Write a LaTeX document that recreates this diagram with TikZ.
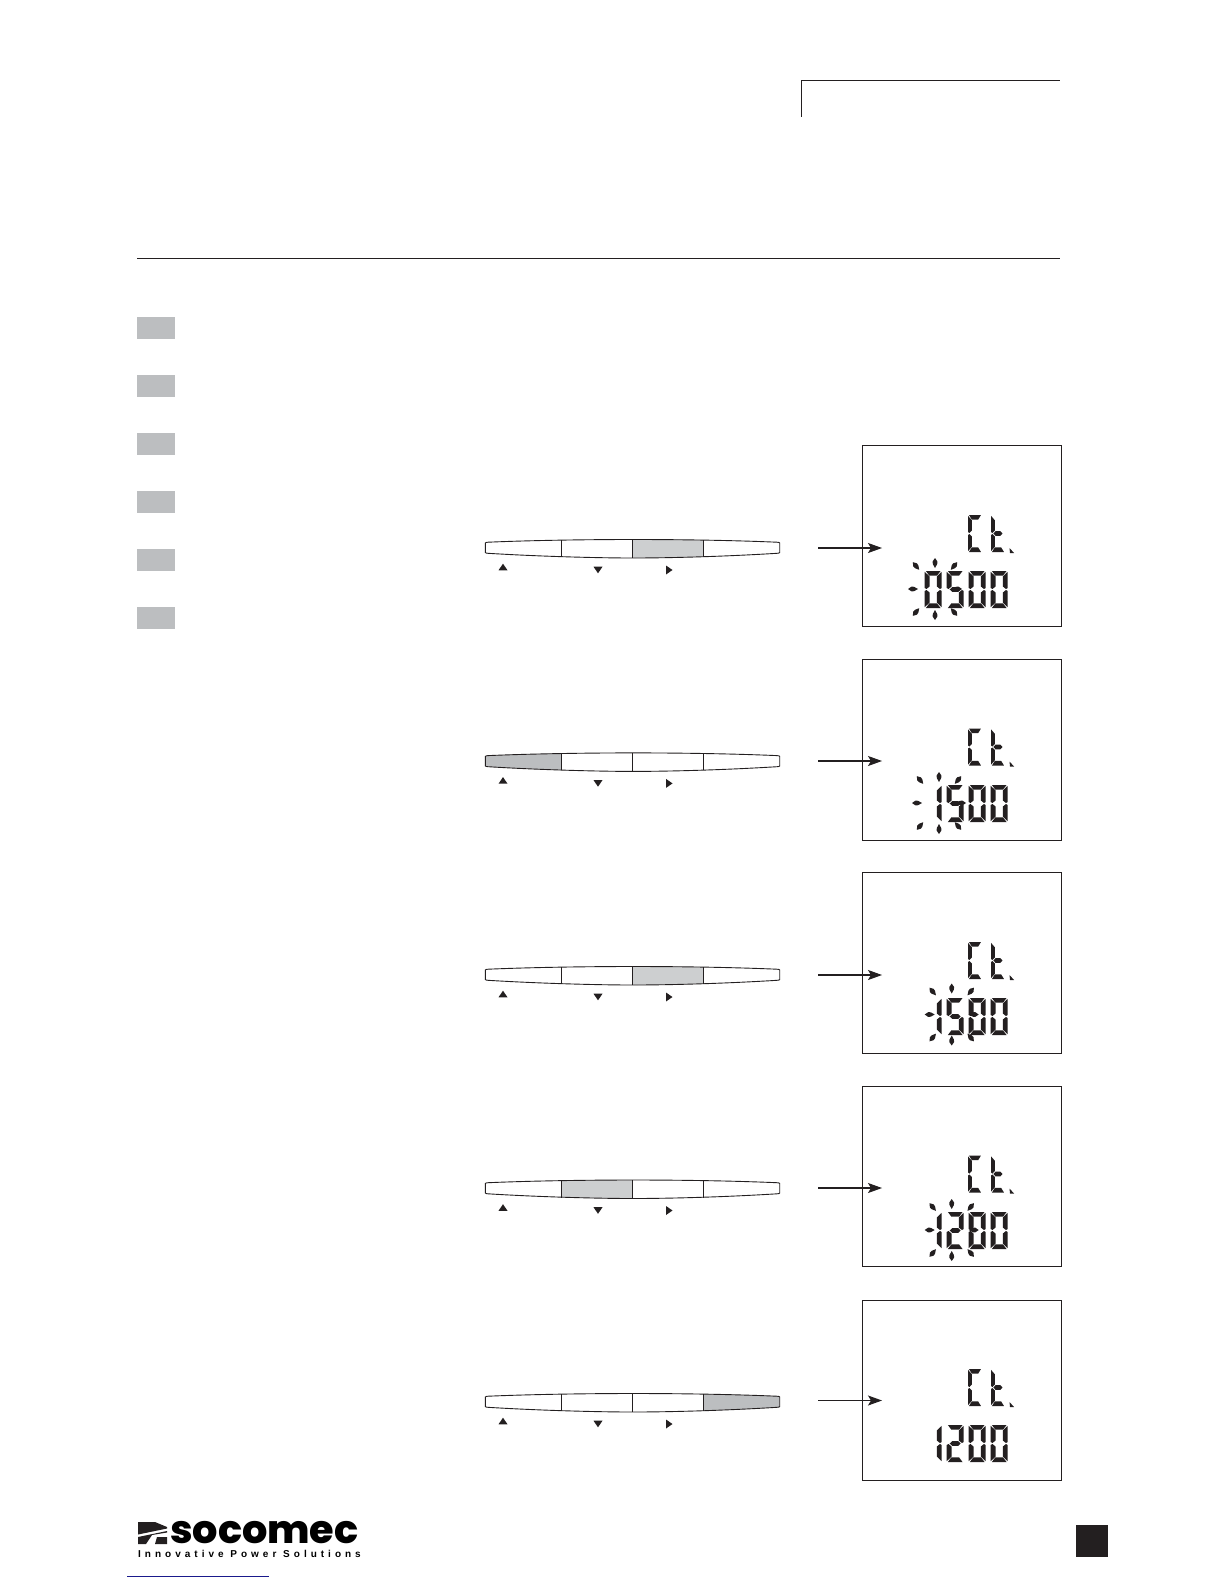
\documentclass[tikz,border=0pt]{standalone}
\usepackage{fontspec}
\newfontfamily\logofont{Poppins}[BoldFont={Poppins ExtraBold}]
\newfontfamily\tagfont[LetterSpace=40]{Liberation Sans}
\usetikzlibrary{arrows.meta}
\definecolor{ink}{HTML}{231F20}
\definecolor{tabgrey}{HTML}{BCBEC0}
\definecolor{keygrey}{HTML}{CDCFD0}
\definecolor{linkblue}{HTML}{1A1A8C}
\tikzset{
  rulerline/.style={draw=ink,line width=0.9pt},
  tabbox/.style={fill=tabgrey,draw=none},
  keyline/.style={draw=ink,line width=0.9pt},
  lcdpanel/.style={draw=ink,line width=0.8pt,fill=white,inner sep=0,anchor=north west,minimum width=199pt},
  lcdseg/.style={fill=ink,draw=none},
  flowarrow/.style={draw=ink,line width=1.1pt,-{Stealth[length=14pt,width=10pt,inset=3pt]}}
}
% seven segment shapes for a digit 17 wide, 37 high
\newcommand\sga{\fill[lcdseg] (1.2,0)--(15.8,0)--(12.4,4.6)--(4.6,4.6)--cycle;}
\newcommand\sgd{\fill[lcdseg] (1.2,37)--(15.8,37)--(12.4,32.4)--(4.6,32.4)--cycle;}
\newcommand\sgg{\fill[lcdseg] (3,18.5)--(5.5,16.2)--(11.5,16.2)--(14,18.5)--(11.5,20.8)--(5.5,20.8)--cycle;}
\newcommand\sgf{\fill[lcdseg] (0,0.8)--(4.8,5.4)--(4.8,15.5)--(1.8,18)--(0,17)--cycle;}
\newcommand\sge{\fill[lcdseg] (0,36.2)--(4.8,31.6)--(4.8,21.5)--(1.8,19)--(0,20)--cycle;}
\newcommand\sgb{\fill[lcdseg] (17,0.8)--(12.2,5.4)--(12.2,15.5)--(15.2,18)--(17,17)--cycle;}
\newcommand\sgc{\fill[lcdseg] (17,36.2)--(12.2,31.6)--(12.2,21.5)--(15.2,19)--(17,20)--cycle;}
\newcommand\lcdchar[3]{\begin{scope}[shift={(#1,#2)}]\foreach \s in {#3}{\csname sg\s\endcsname}\end{scope}}
\newcommand\lcdnarrow[3]{\begin{scope}[shift={(#1,#2)},xscale=0.82]\foreach \s in {#3}{\csname sg\s\endcsname}\end{scope}}
\newcommand\lcdzero[2]{\lcdchar{#1}{#2}{a,b,c,d,e,f}}
\newcommand\lcdfive[2]{\lcdchar{#1}{#2}{a,f,g,c,d}}
\newcommand\lcdone[2]{\lcdchar{#1}{#2}{b,c}}
\newcommand\lcdtwo[2]{\lcdchar{#1}{#2}{a,b,g,e,d}}
% blink rays: spindle centred on a point
\newcommand\lcdray[3]{\fill[lcdseg,shift={(#1,#2)},rotate=#3] (-5,0) -- (-1.5,-2.4) -- (1,-2.2) -- (5,0) -- (1,2.2) -- (-1.5,2.4) -- cycle;}
\newcommand\blink[2]{\foreach \dx/\dy/\ang in {22/0/180,-22/0/0,0/26/90,0/-26/-90,19/-23/-130,-19/23/50,19/23/130,-19/-23/-50}{\lcdray{#1+\dx}{#2+\dy}{\ang}}}
% keypad strip outline and symbols
\newcommand\keyoutline{(485.3,543) .. controls (485.3,542.5) and (487,542.3) .. (488,542.2)
       .. controls (540,540) and (600,539.5) .. (632.4,539.5)
       .. controls (670,539.5) and (725,540) .. (777,542.2)
       .. controls (778.5,542.3) and (779.7,542.5) .. (779.7,543)
       -- (779.7,552.5) .. controls (779.7,553) and (778.5,553.2) .. (777,553.3)
       .. controls (725,556.5) and (670,558) .. (632.4,558)
       .. controls (600,558) and (540,556.5) .. (488,553.3)
       .. controls (487,553.2) and (485.3,553) .. (485.3,552.5) -- cycle}
% #1 vertical offset, #2 colour of the pressed key, #3 and #4 its left and right edge
\newcommand\keystrip[4]{%
  \begin{scope}[shift={(0,#1)}]
    \fill[white] \keyoutline;
    \begin{scope}
      \clip \keyoutline;
      \fill[#2] (#3,530) rectangle (#4,570);
    \end{scope}
    \draw[keyline] \keyoutline;
    \draw[keyline] (561,540.3) -- (561,557) (632.4,539.5) -- (632.4,558) (703.7,540.3) -- (703.7,557);
    \fill[ink] (498.5,570.3) -- (507.5,570.3) -- (503,563.7) -- cycle;
    \fill[ink] (593.5,566.7) -- (602.5,566.7) -- (598,573.3) -- cycle;
    \fill[ink] (666,565.5) -- (666,574.5) -- (672.5,570) -- cycle;
  \end{scope}}
\begin{document}
\begin{tikzpicture}[x=1pt,y=-1pt]
\useasboundingbox (0,0) rectangle (1224,1584);
% header rules
\coordinate (hdA) at (801.5,117);
\coordinate (hdB) at (801.5,80.5);
\coordinate (hdC) at (1060,80.5);
\draw[rulerline] (hdA) -- (hdB) -- (hdC);
\coordinate (ruleA) at (137,258.5);
\coordinate (ruleB) at (1060,258.5);
\draw[rulerline] (ruleA) -- (ruleB);
% tabs
\foreach \y in {317,375,433,491,549,607}{\fill[tabbox] (137,\y) rectangle (175,\y+22);}
% key strips, each with its pressed key
\keystrip{0}{keygrey}{632.4}{703.7}
\keystrip{213.4}{tabgrey}{480}{561}
\keystrip{427}{keygrey}{632.4}{703.7}
\keystrip{640.5}{keygrey}{561}{632.4}
\keystrip{854}{tabgrey}{703.7}{785}
% panels
\node[lcdpanel,minimum height=181pt] (pa) at (862,445) {};
\node[lcdpanel,minimum height=180.5pt] (pb) at (862,659) {};
\node[lcdpanel,minimum height=180.5pt] (pc) at (862,872) {};
\node[lcdpanel,minimum height=180pt] (pd) at (862,1086) {};
\node[lcdpanel,minimum height=180.5pt] (pe) at (862,1299.5) {};
% arrows
\foreach \n/\y in {a/548,b/761,c/975,d/1188,e/1400.5}{
  \coordinate (st\n) at (818,\y);
  \coordinate (en\n) at (882,\y);
  \draw[flowarrow] (st\n) -- (en\n);
}
% Ct. labels
\foreach \y in {515,728.5,942,1155.5,1369}{
  \lcdnarrow{968}{\y}{a,f,e,d}
  \lcdnarrow{991}{\y}{f,e,g,d}
  \fill[lcdseg] (1009.5,\y+33) -- (1014,\y+38) -- (1010,\y+38) -- cycle;
}
% row 1: 0500
\lcdzero{924.7}{571}\lcdfive{946.7}{571}\lcdzero{968.7}{571}\lcdzero{990.7}{571}
\blink{935}{589}
% row 2: 1500
\lcdone{924.7}{785}\lcdfive{946.7}{785}\lcdzero{968.7}{785}\lcdzero{990.7}{785}
\blink{939}{803}
% row 3: 1500
\lcdone{924.7}{998}\lcdfive{946.7}{998}\lcdzero{968.7}{998}\lcdzero{990.7}{998}
\blink{951.7}{1014.5}
% row 4: 1200
\lcdone{924.7}{1212}\lcdtwo{946.7}{1212}\lcdzero{968.7}{1212}\lcdzero{990.7}{1212}
\blink{951.7}{1230}
% row 5: 1200
\lcdone{924.7}{1425}\lcdtwo{946.7}{1425}\lcdzero{968.7}{1425}\lcdzero{990.7}{1425}
% logo
\fill[ink] (138,1522) -- (155,1522) -- (167,1527) -- (167,1528.5) -- (138,1534.5) -- cycle;
\fill[ink] (138,1537) -- (167,1531) -- (167,1532.5) -- (152,1535) -- (146,1544) -- (138,1544) -- cycle;
\fill[ink] (157,1537) -- (167,1537) -- (167,1544) -- (155,1544) -- cycle;
\node[anchor=base west,inner sep=0,font=\logofont\bfseries\fontsize{39}{39}\selectfont,xscale=1.02] (logo) at (170,1543) {socomec};
\node[anchor=base west,inner sep=0,font=\tagfont\bfseries\fontsize{10}{10}\selectfont] (tag) at (138,1557) {Innovative Power Solutions};
\coordinate (lnA) at (127,1576);
\coordinate (lnB) at (269,1576);
\draw[linkblue,line width=0.9pt] (lnA) -- (lnB);
% page square
\fill[ink] (1075.5,1525) rectangle (1108,1557);
\end{tikzpicture}
\end{document}
